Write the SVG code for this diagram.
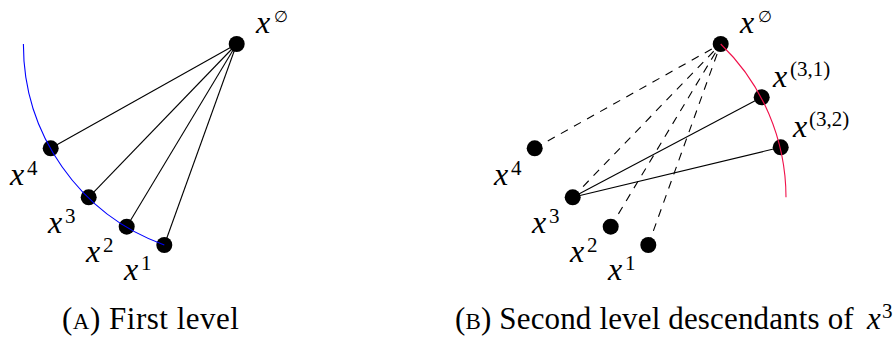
<svg xmlns="http://www.w3.org/2000/svg" width="896" height="339" viewBox="0 0 896 339">
<style>
.edge{stroke:#000;stroke-width:1.1;fill:none}
.dash{stroke-dasharray:8 7}
.dot{fill:#000}
.lbl{font-family:"Liberation Serif","DejaVu Serif",serif;font-size:32px;fill:#000}
.it{font-style:italic}
.sup{font-style:normal;font-size:21px}
.es{font-size:16px}
.cap{font-family:"Liberation Serif","DejaVu Serif",serif;font-size:31px;letter-spacing:0.5px;fill:#000}
.capb{letter-spacing:0.15px}
.sc{font-size:23px}
</style>
<rect width="896" height="339" fill="#fff"/>
<g id="connectors">
  <line class="edge" x1="236.7" y1="44" x2="50.7" y2="148.3"/>
  <line class="edge" x1="236.7" y1="44" x2="88.7" y2="197.3"/>
  <line class="edge" x1="236.7" y1="44" x2="126.7" y2="226.7"/>
  <line class="edge" x1="236.7" y1="44" x2="164.3" y2="245"/>
  <line class="edge dash" x1="534.7" y1="148.3" x2="720.7" y2="44"/>
  <line class="edge dash" x1="572.7" y1="197.3" x2="720.7" y2="44"/>
  <line class="edge dash" x1="610.7" y1="226.7" x2="720.7" y2="44"/>
  <line class="edge dash" x1="648.3" y1="245" x2="720.7" y2="44"/>
  <line class="edge" x1="572.7" y1="197.3" x2="761.7" y2="97.3"/>
  <line class="edge" x1="572.7" y1="197.3" x2="780.7" y2="147.3"/>
</g>
<g id="a-root"><circle class="dot" cx="236.7" cy="44" r="8"/><text class="lbl" y="33"><tspan class="it" x="256">x</tspan><tspan class="es" x="274" y="22">∅</tspan></text></g>
<g id="a-x4"><circle class="dot" cx="50.7" cy="148.3" r="8"/><text class="lbl" y="185"><tspan class="it" x="10">x</tspan><tspan class="sup" x="27" y="175">4</tspan></text></g>
<g id="a-x3"><circle class="dot" cx="88.7" cy="197.3" r="8"/><text class="lbl" y="233"><tspan class="it" x="48">x</tspan><tspan class="sup" x="65" y="223">3</tspan></text></g>
<g id="a-x2"><circle class="dot" cx="126.7" cy="226.7" r="8"/><text class="lbl" y="262"><tspan class="it" x="86">x</tspan><tspan class="sup" x="103" y="252">2</tspan></text></g>
<g id="a-x1"><circle class="dot" cx="164.3" cy="245" r="8"/><text class="lbl" y="280"><tspan class="it" x="124">x</tspan><tspan class="sup" x="141" y="270">1</tspan></text></g>
<g id="b-root"><circle class="dot" cx="720.7" cy="44" r="8"/><text class="lbl" y="33"><tspan class="it" x="740">x</tspan><tspan class="es" x="758" y="22">∅</tspan></text></g>
<g id="b-x4"><circle class="dot" cx="534.7" cy="148.3" r="8"/><text class="lbl" y="185"><tspan class="it" x="494">x</tspan><tspan class="sup" x="511" y="175">4</tspan></text></g>
<g id="b-x3"><circle class="dot" cx="572.7" cy="197.3" r="8"/><text class="lbl" y="233"><tspan class="it" x="532">x</tspan><tspan class="sup" x="549" y="223">3</tspan></text></g>
<g id="b-x2"><circle class="dot" cx="610.7" cy="226.7" r="8"/><text class="lbl" y="262"><tspan class="it" x="570">x</tspan><tspan class="sup" x="587" y="252">2</tspan></text></g>
<g id="b-x1"><circle class="dot" cx="648.3" cy="245" r="8"/><text class="lbl" y="280"><tspan class="it" x="608">x</tspan><tspan class="sup" x="625" y="270">1</tspan></text></g>
<g id="b-x31"><circle class="dot" cx="761.7" cy="97.3" r="8"/><text class="lbl" y="87"><tspan class="it" x="773">x</tspan><tspan class="sup" x="790" y="76">(3,1)</tspan></text></g>
<g id="b-x32"><circle class="dot" cx="780.7" cy="147.3" r="8"/><text class="lbl" y="137"><tspan class="it" x="793">x</tspan><tspan class="sup" x="809" y="126">(3,2)</tspan></text></g>
<g id="captions">
  <text class="cap" x="62" y="329">(<tspan class="sc">A</tspan>) First level</text>
  <text class="cap capb" y="329"><tspan x="455">(<tspan class="sc">B</tspan>) Second level descendants of</tspan><tspan class="it" x="867">x</tspan><tspan class="sup" x="882" y="318">3</tspan></text>
</g>
<g id="arcs">
  <path d="M 23.4 44 A 213.3 213.3 0 0 0 164.3 245" fill="none" stroke="#0000ff" stroke-width="1.1"/>
  <path d="M 720.7 44 A 213.3 213.3 0 0 1 786 197.3" fill="none" stroke="#f0104a" stroke-width="1.1"/>
</g>
</svg>
